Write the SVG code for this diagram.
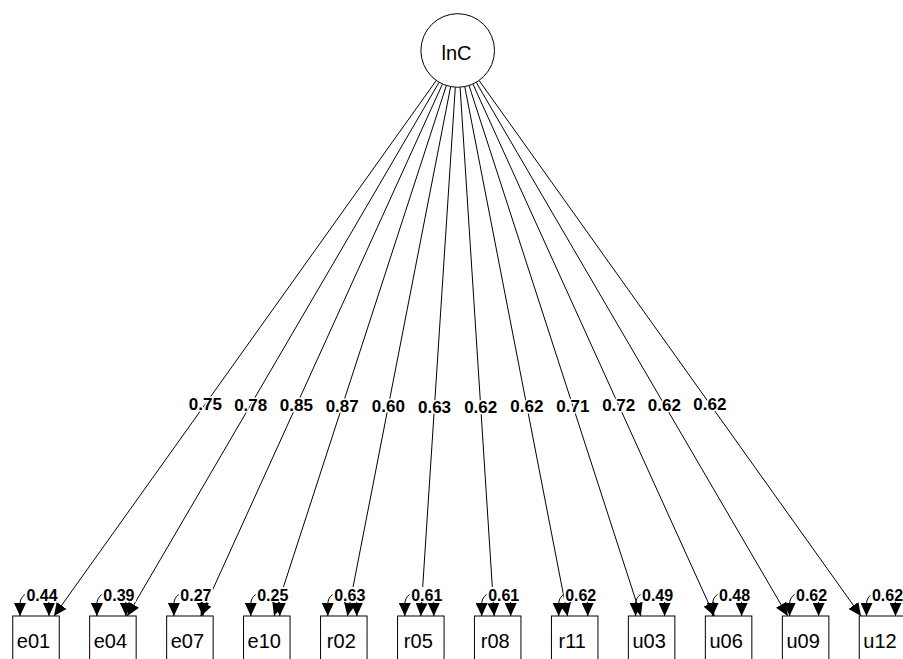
<svg xmlns="http://www.w3.org/2000/svg" width="903" height="659" viewBox="0 0 903 659">
<style>
.edge{fill:none;stroke:#000;stroke-width:1;marker-end:url(#ah)}
.loop{fill:none;stroke:#000;stroke-width:1;marker-start:url(#ah);marker-end:url(#ah)}
.elab{font-family:"Liberation Sans",Arial,sans-serif;font-size:17px;font-weight:bold;fill:#000;text-anchor:middle;stroke:#fff;stroke-width:3;paint-order:stroke;stroke-linejoin:round}
.rbg{fill:#fff}
.rlab{font-family:"Liberation Sans",Arial,sans-serif;font-size:16px;font-weight:bold;fill:#000;text-anchor:middle}
.box{fill:#fff;stroke:#000;stroke-width:1}
.nlab{font-family:"Liberation Sans",Arial,sans-serif;font-size:20px;fill:#000;text-anchor:middle}
</style>
<defs>
<marker id="ah" viewBox="0 0 13 12" refX="13" refY="6" markerWidth="13" markerHeight="12" markerUnits="userSpaceOnUse" orient="auto-start-reverse">
<path d="M0,0 L13,6 L0,12 z" fill="#000"/>
</marker>
</defs>
<rect width="903" height="659" fill="#fff"/>
<g id="connectors">
<path class="edge" d="M436.2,80.6 L54,616"/>
<path class="edge" d="M439,82.45 L127.3,616"/>
<path class="edge" d="M442.4,84.2 L200.7,616"/>
<path class="edge" d="M446.3,85.7 L274,616"/>
<path class="edge" d="M450.6,86.8 L347.4,616"/>
<path class="edge" d="M455.3,87.4 L420.8,616"/>
<path class="edge" d="M460.1,87.4 L494.2,616"/>
<path class="edge" d="M464.8,86.8 L567.6,616"/>
<path class="edge" d="M469.1,85.7 L640.9,616"/>
<path class="edge" d="M473,84.2 L714.3,616"/>
<path class="edge" d="M476.3,82.5 L787.7,616"/>
<path class="edge" d="M479.2,80.6 L861,616"/>
<text class="elab" x="205.4" y="410">0.75</text>
<text class="elab" x="250.7" y="410.7">0.78</text>
<text class="elab" x="296.4" y="411.4">0.85</text>
<text class="elab" x="342.2" y="412">0.87</text>
<text class="elab" x="388.3" y="412.4">0.60</text>
<text class="elab" x="434.5" y="412.7">0.63</text>
<text class="elab" x="480.7" y="412.7">0.62</text>
<text class="elab" x="526.9" y="412.4">0.62</text>
<text class="elab" x="572.9" y="412">0.71</text>
<text class="elab" x="618.7" y="411.4">0.72</text>
<text class="elab" x="664.4" y="410.7">0.62</text>
<text class="elab" x="709.8" y="410">0.62</text>
<path class="loop" d="M20,616 L20,604 C20,588 49,586 49,604 L49,616"/>
<path class="loop" d="M96.9,616 L96.9,604 C96.9,588 125.9,586 125.9,604 L125.9,616"/>
<path class="loop" d="M173.9,616 L173.9,604 C173.9,588 202.9,586 202.9,604 L202.9,616"/>
<path class="loop" d="M250.8,616 L250.8,604 C250.8,588 279.8,586 279.8,604 L279.8,616"/>
<path class="loop" d="M327.8,616 L327.8,604 C327.8,588 356.8,586 356.8,604 L356.8,616"/>
<path class="loop" d="M404.8,616 L404.8,604 C404.8,588 433.8,586 433.8,604 L433.8,616"/>
<path class="loop" d="M481.7,616 L481.7,604 C481.7,588 510.7,586 510.7,604 L510.7,616"/>
<path class="loop" d="M558.7,616 L558.7,604 C558.7,588 587.7,586 587.7,604 L587.7,616"/>
<path class="loop" d="M635.6,616 L635.6,604 C635.6,588 664.6,586 664.6,604 L664.6,616"/>
<path class="loop" d="M712.6,616 L712.6,604 C712.6,588 741.6,586 741.6,604 L741.6,616"/>
<path class="loop" d="M789.6,616 L789.6,604 C789.6,588 818.6,586 818.6,604 L818.6,616"/>
<path class="loop" d="M866.5,616 L866.5,604 C866.5,588 895.5,586 895.5,604 L895.5,616"/>
<rect class="rbg" x="25" y="587" width="34" height="15"/><text class="rlab" x="42" y="601">0.44</text>
<rect class="rbg" x="101.9" y="587" width="34" height="15"/><text class="rlab" x="118.9" y="601">0.39</text>
<rect class="rbg" x="178.9" y="587" width="34" height="15"/><text class="rlab" x="195.9" y="601">0.27</text>
<rect class="rbg" x="255.8" y="587" width="34" height="15"/><text class="rlab" x="272.8" y="601">0.25</text>
<rect class="rbg" x="332.8" y="587" width="34" height="15"/><text class="rlab" x="349.8" y="601">0.63</text>
<rect class="rbg" x="409.8" y="587" width="34" height="15"/><text class="rlab" x="426.8" y="601">0.61</text>
<rect class="rbg" x="486.7" y="587" width="34" height="15"/><text class="rlab" x="503.7" y="601">0.61</text>
<rect class="rbg" x="563.7" y="587" width="34" height="15"/><text class="rlab" x="580.7" y="601">0.62</text>
<rect class="rbg" x="640.6" y="587" width="34" height="15"/><text class="rlab" x="657.6" y="601">0.49</text>
<rect class="rbg" x="717.6" y="587" width="34" height="15"/><text class="rlab" x="734.6" y="601">0.48</text>
<rect class="rbg" x="794.6" y="587" width="34" height="15"/><text class="rlab" x="811.6" y="601">0.62</text>
<rect class="rbg" x="870.5" y="587" width="34" height="15"/><text class="rlab" x="887.5" y="601">0.62</text>
</g>
<g id="lnC"><circle cx="457.7" cy="50.5" r="36.8" fill="#fff" stroke="#000" stroke-width="1"/><text class="nlab" x="456.5" y="60">lnC</text></g>
<g id="e01"><rect class="box" x="12.75" y="616" width="46.5" height="60"/><text class="nlab" x="33.5" y="648">e01</text></g>
<g id="e04"><rect class="box" x="89.65" y="616" width="46.5" height="60"/><text class="nlab" x="110.4" y="648">e04</text></g>
<g id="e07"><rect class="box" x="166.65" y="616" width="46.5" height="60"/><text class="nlab" x="187.4" y="648">e07</text></g>
<g id="e10"><rect class="box" x="243.55" y="616" width="46.5" height="60"/><text class="nlab" x="264.3" y="648">e10</text></g>
<g id="r02"><rect class="box" x="320.55" y="616" width="46.5" height="60"/><text class="nlab" x="341.3" y="648">r02</text></g>
<g id="r05"><rect class="box" x="397.55" y="616" width="46.5" height="60"/><text class="nlab" x="418.3" y="648">r05</text></g>
<g id="r08"><rect class="box" x="474.45" y="616" width="46.5" height="60"/><text class="nlab" x="495.2" y="648">r08</text></g>
<g id="r11"><rect class="box" x="551.45" y="616" width="46.5" height="60"/><text class="nlab" x="572.2" y="648">r11</text></g>
<g id="u03"><rect class="box" x="628.35" y="616" width="46.5" height="60"/><text class="nlab" x="649.1" y="648">u03</text></g>
<g id="u06"><rect class="box" x="705.35" y="616" width="46.5" height="60"/><text class="nlab" x="726.1" y="648">u06</text></g>
<g id="u09"><rect class="box" x="782.35" y="616" width="46.5" height="60"/><text class="nlab" x="803.1" y="648">u09</text></g>
<g id="u12"><rect class="box" x="859.25" y="616" width="46.5" height="60"/><text class="nlab" x="880" y="648">u12</text></g>
</svg>
